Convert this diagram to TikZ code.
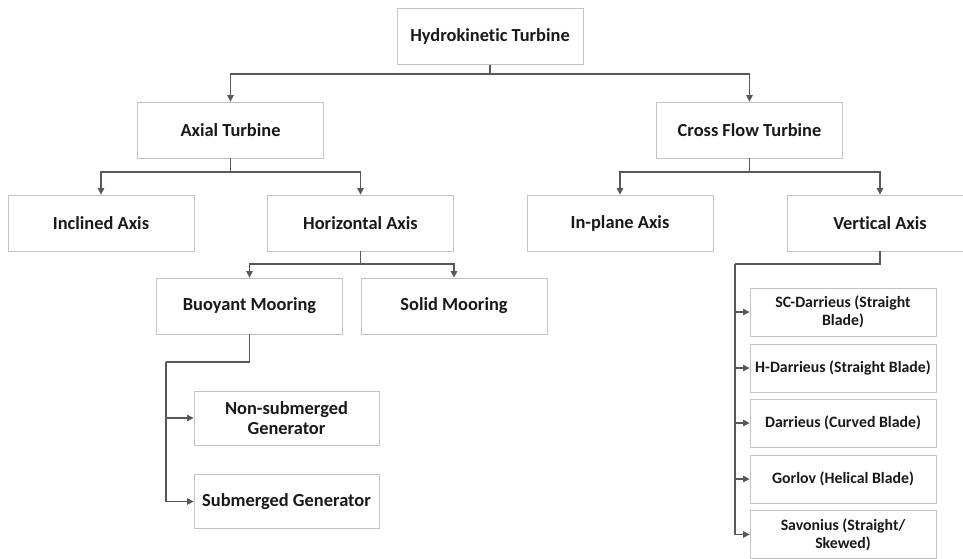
\documentclass[tikz,border=0pt]{standalone}
\usepackage{fontspec}
\setmainfont[Ligatures=NoCommon]{Carlito}
\usetikzlibrary{arrows.meta}
\definecolor{linegray}{HTML}{595959}
\definecolor{boxgray}{HTML}{C4C4C4}
\tikzset{
	box/.style={draw=boxgray,line width=0.8pt,fill=white,minimum width=186pt,minimum height=56pt,inner sep=2pt,align=center,font=\bfseries\fontsize{18.4}{20}\selectfont,text=black!90},
	smallbox/.style={box,minimum height=48pt,font=\bfseries\fontsize{15.8}{18}\selectfont},
	link/.style={draw=linegray,line width=1.3pt},
	arr/.style={link,-{Triangle[length=6.5pt,width=6.5pt]}}
}
\begin{document}
\begin{tikzpicture}[x=1pt,y=-1pt]
			\useasboundingbox (0,0) rectangle (963,558);
			% levels of the tree
			\node[box] (hk) at (490,36.5) {Hydrokinetic Turbine};
			\node[box] (axial) at (230.5,130) {Axial Turbine};
			\node[box] (cross) at (749.5,130) {Cross Flow Turbine};
			\node[box] (inclined) at (101,223) {Inclined Axis};
			\node[box] (horiz) at (360.5,223) {Horizontal Axis};
			\node[box] (inplane) at (620,223) {In-plane Axis};
			\node[box] (vert) at (880,223) {Vertical Axis};
			\node[box] (buoy) at (249.5,306) {Buoyant Mooring};
			\node[box] (solid) at (454,306) {Solid Mooring};
			\node[box,minimum width=185pt,minimum height=54pt] (nonsub) at (286.5,418) {Non-submerged\\Generator};
			\node[box,minimum width=185pt,minimum height=54pt] (sub) at (286.5,501.5) {Submerged Generator};
			\node[smallbox] (sc) at (843,312) {SC-Darrieus (Straight\\Blade)};
			\node[smallbox] (hd) at (843,368) {H-Darrieus (Straight Blade)};
			\node[smallbox] (dc) at (843,423) {Darrieus (Curved Blade)};
			\node[smallbox] (gh) at (843,479) {Gorlov (Helical Blade)};
			\node[smallbox] (sv) at (843,534.5) {Savonius (Straight/\\Skewed)};
			
			% junctions
			\coordinate (j0) at (490,74);
			\coordinate (j1) at (230.5,172);
			\coordinate (j2) at (749.5,172);
			\coordinate (j3) at (360.5,264);
			\coordinate (j4) at (166,362);
			\coordinate (j5) at (735,264);
			
			\draw[link] (hk.south) -- (j0);
			\draw[arr] (j0) -| (axial.north);
			\draw[arr] (j0) -| (cross.north);
			\draw[link] (axial.south) -- (j1);
			\draw[arr] (j1) -| (inclined.north);
			\draw[arr] (j1) -| (horiz.north);
			\draw[link] (cross.south) -- (j2);
			\draw[arr] (j2) -| (inplane.north);
			\draw[arr] (j2) -| (vert.north);
			\draw[link] (horiz.south) -- (j3);
			\draw[arr] (j3) -| (buoy.north);
			\draw[arr] (j3) -| (solid.north);
			\draw[link] (buoy.south) |- (j4);%bus to generators
			\draw[link] (j4) -- (j4 |- sub.west);
			\foreach \n in {nonsub,sub}
				\draw[arr] (j4 |- \n.west) -- (\n.west);
			\draw[link] (vert.south) |- (j5);%bus to blade types
			\draw[link] (j5) -- (j5 |- sv.west);
			\foreach \n in {sc,hd,dc,gh,sv}
				\draw[arr] (j5 |- \n.west) -- (\n.west);
		\end{tikzpicture}
\end{document}
